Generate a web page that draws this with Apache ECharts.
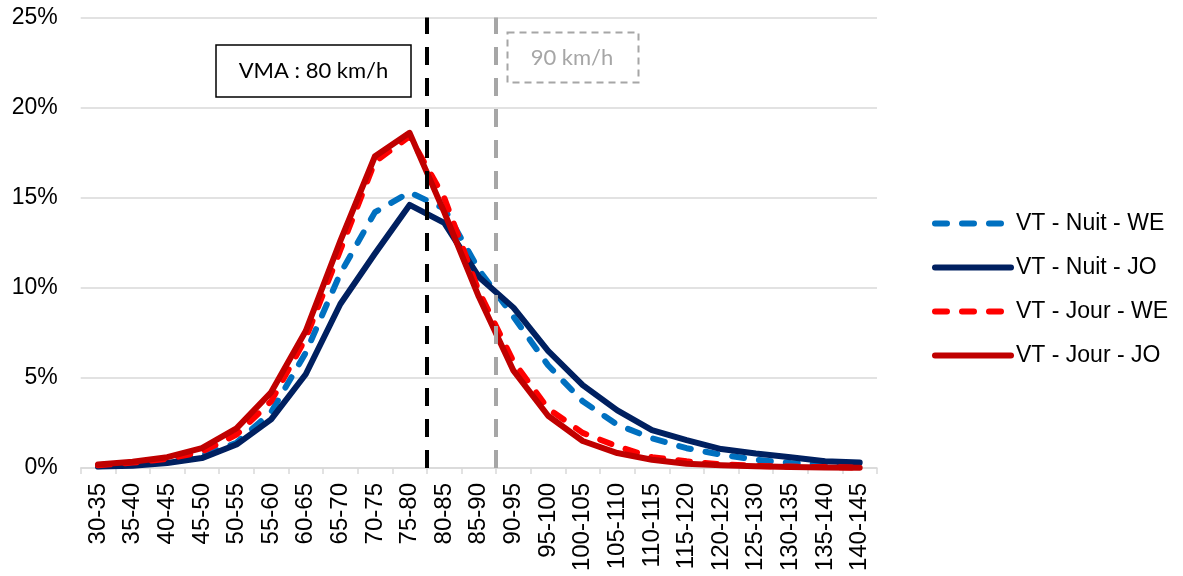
<!DOCTYPE html>
<html>
<head>
<meta charset="utf-8">
<script src="https://cdn.jsdelivr.net/npm/echarts@6/dist/echarts.min.js"></script>
<style>
  html, body { margin: 0; padding: 0; background: #fff; }
  #chart { width: 1183px; height: 576px; }
</style>
</head>
<body>
<div id="chart"></div>
<script>
// Speed classes (km/h)
const categories = ['30-35','35-40','40-45','45-50','50-55','55-60','60-65','65-70','70-75','75-80',
  '80-85','85-90','90-95','95-100','100-105','105-110','110-115','115-120','120-125','125-130',
  '130-135','135-140','140-145'];

// Share of vehicles per speed class (%)
const nuitWE  = [0.1, 0.2, 0.4, 0.7, 1.4, 3.1, 6.4, 10.8, 14.2, 15.3, 14.4, 11.0, 8.4, 5.7, 3.7, 2.4, 1.65, 1.1, 0.74, 0.46, 0.28, 0.18, 0.13];
const nuitJO  = [0.08, 0.13, 0.28, 0.55, 1.3, 2.7, 5.2, 9.1, 11.9, 14.6, 13.6, 10.6, 8.9, 6.5, 4.6, 3.2, 2.1, 1.55, 1.05, 0.8, 0.6, 0.38, 0.3];
const jourWE  = [0.15, 0.3, 0.5, 0.9, 1.85, 3.7, 7.2, 12.1, 17.0, 18.4, 15.0, 9.8, 5.9, 3.3, 1.95, 1.2, 0.6, 0.37, 0.2, 0.12, 0.08, 0.05, 0.03];
const jourJO  = [0.2, 0.35, 0.6, 1.1, 2.2, 4.2, 7.6, 12.6, 17.3, 18.6, 14.2, 9.5, 5.4, 2.9, 1.5, 0.83, 0.46, 0.24, 0.15, 0.1, 0.05, 0.03, 0.02];

// Reference speeds (km/h) and speed span of the class axis
const vmaSpeed = 80;
const refSpeed = 90;
const speedSpan = [30, 145];

const yTicks = { min: 0, max: 25, interval: 5 };

const FONT = '"Liberation Sans", Arial, sans-serif';
const BOX_FONT = 'Lato, "Open Sans", sans-serif';
const LINE_W = 6;
const DASH = [12, 15];

const chart = echarts.init(document.getElementById('chart'), null, { renderer: 'canvas' });

function lineSeries(name, data, color, dashed) {
  return {
    name: name,
    type: 'line',
    data: data,
    symbol: 'none',
    showSymbol: false,
    smooth: false,
    lineStyle: {
      color: color,
      width: LINE_W,
      type: dashed ? DASH : 'solid',
      cap: 'round',
      join: 'round'
    },
    itemStyle: { color: color },
    emphasis: { disabled: true },
    animation: false
  };
}

function refLine(speed, color) {
  return {
    type: 'line',
    xAxisIndex: 1,
    data: [],
    silent: true,
    animation: false,
    markLine: {
      silent: true,
      symbol: 'none',
      animation: false,
      label: { show: false },
      lineStyle: { color: color, width: 4, type: [18, 13] },
      data: [{ xAxis: speed }]
    }
  };
}

const option = {
  backgroundColor: '#ffffff',
  animation: false,
  grid: { left: 80.7, right: 306, top: 17.5, bottom: 108, containLabel: false },
  legend: {
    orient: 'vertical',
    left: 927,
    top: 207,
    itemWidth: 76,
    itemHeight: 14,
    itemGap: 21,
    data: ['VT - Nuit - WE', 'VT - Nuit - JO', 'VT - Jour - WE', 'VT - Jour - JO'],
    itemStyle: { opacity: 0 },
    lineStyle: { width: LINE_W, cap: 'round', opacity: 1 },
    textStyle: { fontFamily: FONT, fontSize: 23, color: '#000' },
    selectedMode: false
  },
  xAxis: [{
    type: 'category',
    data: categories,
    boundaryGap: true,
    axisLine: { show: true, lineStyle: { color: '#d9d9d9', width: 1.5 } },
    axisTick: { show: true, length: 6, lineStyle: { color: '#d9d9d9', width: 1.5 } },
    axisLabel: {
      interval: 0,
      rotate: 90,
      margin: 15,
      fontFamily: FONT,
      fontSize: 24,
      color: '#000'
    },
    splitLine: { show: false }
  }, {
    type: 'value',
    min: speedSpan[0],
    max: speedSpan[1],
    show: false
  }],
  yAxis: {
    type: 'value',
    min: yTicks.min,
    max: yTicks.max,
    interval: yTicks.interval,
    axisLine: { show: false },
    axisTick: { show: false },
    axisLabel: {
      formatter: '{value}%',
      margin: 23,
      fontFamily: FONT,
      fontSize: 23,
      color: '#000'
    },
    splitLine: { lineStyle: { color: '#d9d9d9', width: 1.5 } }
  },
  graphic: [
    {
      type: 'rect',
      shape: { x: 216, y: 45, width: 195, height: 52 },
      style: { fill: '#fff', stroke: '#000', lineWidth: 1.5 },
      z: 10
    },
    {
      type: 'text',
      x: 313.5, y: 71,
      style: {
        text: 'VMA : 80 km/h',
        fill: '#000',
        font: '22px ' + BOX_FONT,
        textAlign: 'center',
        textVerticalAlign: 'middle'
      },
      z: 11
    },
    {
      type: 'rect',
      shape: { x: 507.5, y: 32.5, width: 131, height: 50 },
      style: { fill: '#fff', stroke: '#a6a6a6', lineWidth: 2, lineDash: [7, 5] },
      z: 10
    },
    {
      type: 'text',
      x: 572, y: 58,
      style: {
        text: '90 km/h',
        fill: '#a6a6a6',
        font: '22px ' + BOX_FONT,
        textAlign: 'center',
        textVerticalAlign: 'middle'
      },
      z: 11
    }
  ],
  series: [
    refLine(vmaSpeed, '#000000'),
    refLine(refSpeed, '#a6a6a6'),
    lineSeries('VT - Nuit - WE', nuitWE, '#0070C0', true),
    lineSeries('VT - Nuit - JO', nuitJO, '#002060', false),
    lineSeries('VT - Jour - WE', jourWE, '#FF0000', true),
    lineSeries('VT - Jour - JO', jourJO, '#C00000', false)
  ]
};

chart.setOption(option);
</script>
</body>
</html>
